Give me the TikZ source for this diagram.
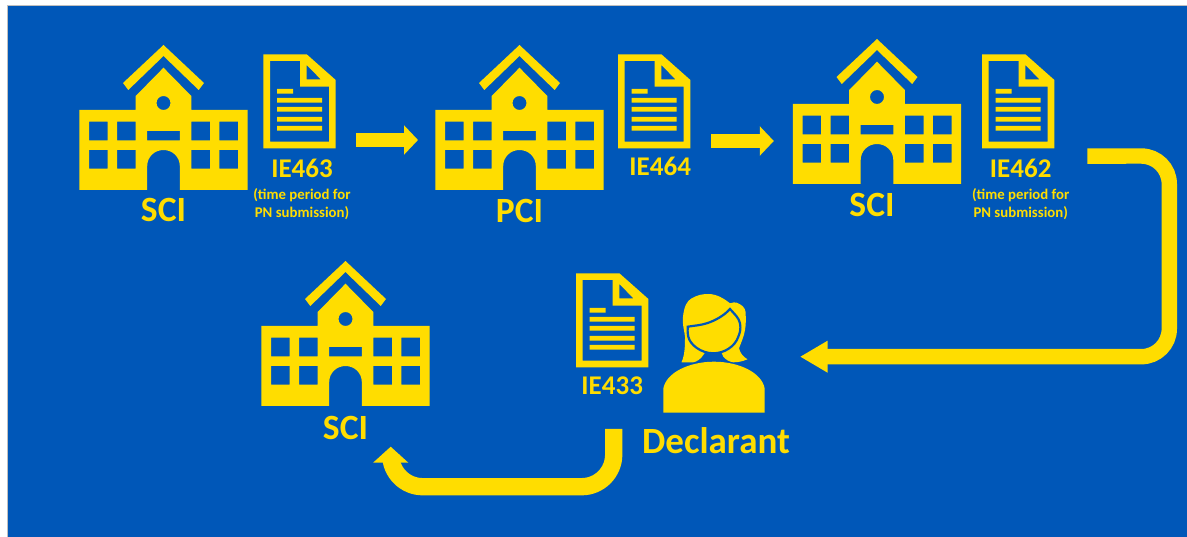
\documentclass[tikz,border=0pt]{standalone}
\usepackage{fontspec}
\setmainfont{Carlito}
\usetikzlibrary{arrows.meta,positioning}
\definecolor{bgblue}{HTML}{0057B8}
\definecolor{signal}{HTML}{FFDD00}

\tikzset{
	school/.style={minimum width=168.4pt,minimum height=145pt,inner sep=0pt,outer sep=0pt,anchor=south},
	docbox/.style={minimum width=72.4pt,minimum height=94pt,inner sep=0pt,outer sep=0pt,anchor=north west},
	personbox/.style={minimum width=101.4pt,minimum height=119pt,inner sep=0pt,outer sep=0pt,anchor=south},
	title/.style={text=signal,font=\bfseries\fontsize{35.5}{38}\selectfont,inner sep=0pt},
	bigtitle/.style={text=signal,font=\bfseries\fontsize{37}{40}\selectfont,inner sep=0pt},
	code/.style={text=signal,font=\bfseries\fontsize{27}{29}\selectfont,inner sep=0pt},
	note/.style={text=signal,font=\bfseries\fontsize{14.8}{18}\selectfont,align=center,inner sep=0pt},
	flow/.style={draw=signal,line width=14.7pt,-{Triangle[length=14pt,width=28.7pt]}},
	sweep/.style={draw=signal,line width=15.4pt,rounded corners=28pt,-{Triangle[length=27.7pt,width=30pt]}},
	sweepb/.style={draw=signal,line width=17.3pt,rounded corners=32pt,-{Triangle[length=16pt,width=34.3pt]}},
	schoolicon/.pic={
		\fill[signal,even odd rule] (-84.2,0) -- (-84.2,-80) -- (-27.8,-80) -- (-27.8,-94) -- (0,-122.3)
			-- (27.8,-94) -- (27.8,-80) -- (84.2,-80) -- (84.2,0) -- (16.3,0) -- (16.3,-24)
			.. controls (16.3,-33) and (9,-40) .. (0,-40) .. controls (-9,-40) and (-16.3,-33) .. (-16.3,-24)
			-- (-16.3,0) -- cycle
			(-74.5,-68.3) rectangle (-55.8,-49.7) (-46.5,-68.3) rectangle (-27.8,-49.7)
			(27.8,-68.3) rectangle (46.5,-49.7) (55.8,-68.3) rectangle (74.5,-49.7)
			(-74.5,-40) rectangle (-55.8,-21.3) (-46.5,-40) rectangle (-27.8,-21.3)
			(27.8,-40) rectangle (46.5,-21.3) (55.8,-40) rectangle (74.5,-21.3)
			(-16.3,-59) rectangle (16.3,-49.7)
			(0,-87) circle[radius=7pt];
		\fill[signal] (0,-145) -- (40.5,-107) -- (35.2,-100) -- (0,-134) -- (-35.2,-100) -- (-40.5,-107) -- cycle;
	},
	docicon/.pic={
		\fill[signal,even odd rule] (0,0) -- (43.4,0) -- (72.4,25.7) -- (72.4,94) -- (0,94) -- cycle
			(6.7,6.7) -- (36.7,6.7) -- (36.7,32.4) -- (65.7,32.4) -- (65.7,87.4) -- (6.7,87.4) -- cycle
			(43.4,10.7) -- (57.4,25) -- (43.4,25) -- cycle;
		\fill[signal] (13.7,34.7) rectangle (29.7,39.4) (13.7,43.7) rectangle (58.7,48.4)
			(13.7,52.7) rectangle (58.7,57.4) (13.7,62.7) rectangle (58.7,67.4) (13.7,71.7) rectangle (58.7,76.4);
	},
	personicon/.pic={
		\fill[signal] (-50.7,0) -- (-50.7,-24) .. controls (-48,-40) and (-25,-51) .. (0,-51)
			.. controls (25,-51) and (48,-40) .. (50.7,-24) -- (50.7,0) -- cycle;
		\fill[signal] (-32.5,-50.4) .. controls (-29,-58) and (-29,-68) .. (-29,-76)
			.. controls (-30,-84) and (-32,-90) .. (-31,-96) .. controls (-30,-106) and (-27,-112) .. (-22.3,-114.4)
			.. controls (-16,-118) and (-11,-118.7) .. (-5.7,-118.7) .. controls (3,-118.7) and (10,-114) .. (16,-109.4)
			.. controls (19,-110.5) and (21,-110.5) .. (22.7,-110) .. controls (28,-108) and (31,-105) .. (31.5,-101)
			.. controls (32,-94) and (32,-88) .. (31,-82.7) .. controls (30,-76) and (27,-70) .. (25,-64.4)
			.. controls (26,-60) and (29,-56) .. (33.5,-53.4) .. controls (28,-51) and (23,-50.4) .. (19.3,-50.4)
			.. controls (15,-51) and (12,-53) .. (9.3,-56) -- (5,-66) -- (-5,-66) -- (-10.7,-57.7)
			.. controls (-13,-54) and (-17,-51) .. (-20.7,-50.4) -- cycle;
		\filldraw[fill=signal,draw=bgblue,line width=2.2pt] (-26.3,-86) .. controls (-20,-87) and (-13,-87.5) .. (-7.3,-89.4)
			.. controls (1,-92) and (10,-97) .. (16,-103.7) .. controls (20,-99) and (25,-95) .. (26,-89.4)
			.. controls (27,-84) and (26,-80) .. (24.3,-76) .. controls (21,-66) and (10,-59.4) .. (-0.7,-59.4)
			.. controls (-13,-59.4) and (-24,-68) .. (-25.7,-76) .. controls (-26.5,-80) and (-26.5,-83) .. (-26.3,-86) -- cycle;
	}
}

\begin{document}
\begin{tikzpicture}[x=1pt,y=-1pt]
	\useasboundingbox (0,0) rectangle (1187,537);
	\fill[white] (0,0) rectangle (1187,537);
	\filldraw[fill=bgblue,draw=black!25,line width=1pt] (7.5,6) rectangle (1200,550);

	\node[school]    (sciA)   at (163.5,190) {};
	\node[school]    (pci)    at (519.5,190) {};
	\node[school]    (sciB)   at (877,184)   {};
	\node[school]    (sciC)   at (345.5,406) {};
	\node[docbox]    (docA)   at (263.3,54.3) {};
	\node[docbox]    (docB)   at (618,54.3)   {};
	\node[docbox]    (docC)   at (982,54.3)   {};
	\node[docbox]    (docD)   at (576,273.3)  {};
	\node[personbox] (person) at (714,412.7)  {};

	\pic at (sciA.south) {schoolicon};
	\pic at (pci.south)  {schoolicon};
	\pic at (sciB.south) {schoolicon};
	\pic at (sciC.south) {schoolicon};
	\pic at (docA.north west) {docicon};
	\pic at (docB.north west) {docicon};
	\pic at (docC.north west) {docicon};
	\pic at (docD.north west) {docicon};
	\pic at (person.south) {personicon};

	\node[title]    (sciAname) [below=8.5pt of sciA]   {SCI};
	\node[title]    (pciname)  [below=9pt of pci]      {PCI};
	\node[title]    (sciBname) [below=9.5pt of sciB,xshift=-5pt] {SCI};
	\node[title]    (sciCname) [below=10.5pt of sciC]  {SCI};
	\node[bigtitle] (decname)  [below=15pt of person,xshift=2pt] {Declarant};
	\node[code]     (ieA)      [below=11pt of docA,xshift=2.5pt]  {IE463};
	\node[code]     (ieB)      [below=8.5pt of docB,xshift=6pt]   {IE464};
	\node[code]     (ieC)      [below=10.7pt of docC,xshift=2.5pt] {IE462};
	\node[code]     (ieD)      [below=9.4pt of docD]   {IE433};
	\node[note]     (noteA)    [below=9.5pt of ieA]    {(time period for\\PN submission)};
	\node[note]     (noteC)    [below=10pt of ieC]     {(time period for\\PN submission)};

	\draw[flow] ([shift={(20.3,-8.3)}]docA.south east) -- ([shift={(-17.3,-50)}]pci.south west);
	\draw[flow] ([shift={(20.7,-7.3)}]docB.south east) -- ([shift={(-19,-43)}]sciB.south west);
	\draw[sweep] ([shift={(33,7.8)}]docC.south east) -- (1169.3,156) -- (1169.3,356.7) -- ([shift={(35.3,3.5)}]person.east);
	\draw[sweepb] ([shift={(-49.6,16.3)}]person.south west) -- (613.7,486.7) -- (390.7,486.7) -- ([shift={(45.2,40.7)}]sciC.south);
\end{tikzpicture}
\end{document}
